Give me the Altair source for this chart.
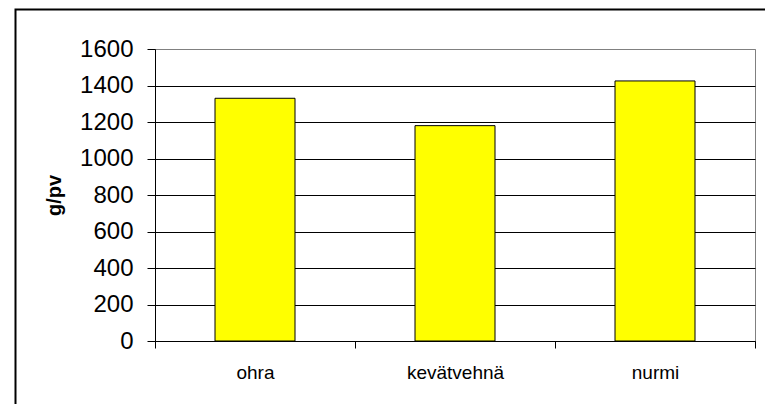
import altair as alt
import pandas as pd

categories = ["ohra", "kevätvehnä", "nurmi"]
values = [1330, 1180, 1425]
y_ticks = [0, 200, 400, 600, 800, 1000, 1200, 1400, 1600]

df = pd.DataFrame({"kasvi": categories, "g/pv": values})

FONT = "Liberation Sans"

bars = alt.Chart(df).mark_bar(
    color="#FFFF00", stroke="black", strokeWidth=1,
    width=alt.RelativeBandSize(0.4)
).encode(
    x=alt.X("kasvi:N", sort=categories, title=None,
            scale=alt.Scale(paddingInner=0, paddingOuter=0),
            axis=alt.Axis(labelAngle=0, tickBand="extent", tickSize=7,
                          labelPadding=15, labelFontSize=19, labelFont=FONT,
                          labelColor="black", domainColor="black",
                          tickColor="black", grid=False)),
    y=alt.Y("g/pv:Q",
            scale=alt.Scale(domain=[0, 1600], nice=False),
            axis=alt.Axis(values=y_ticks, format="d", tickSize=8, labelPadding=14,
                          labelFontSize=24, labelFont=FONT, labelColor="black",
                          domainColor="black", tickColor="black",
                          grid=True,
                          gridColor={"condition": {"test": "datum.value === 1600", "value": "#808080"},
                                     "value": "black"},
                          title="g/pv", titleFont=FONT, titleFontSize=20,
                          titleFontWeight="bold", titleColor="black",
                          titleAngle=270, titleAlign="center",
                          titleBaseline="alphabetic",
                          titleX=-95, titleY=146)),
)

frame = alt.Chart(pd.DataFrame({"f": [0]})).mark_rect(
    fillOpacity=0, stroke="black", strokeWidth=2
).encode(
    x=alt.value(-139.5), x2=alt.value(640),
    y=alt.value(-39.5), y2=alt.value(380),
)

chart = alt.layer(bars, frame).properties(
    width=600, height=292,
    autosize=alt.AutoSizeParams(type="none"),
    padding={"left": 155, "top": 49, "right": 10, "bottom": 63},
    background="white",
).configure_view(stroke="#808080", strokeWidth=1)

chart.save("out.html", embed_options={"renderer": "svg", "actions": False})
